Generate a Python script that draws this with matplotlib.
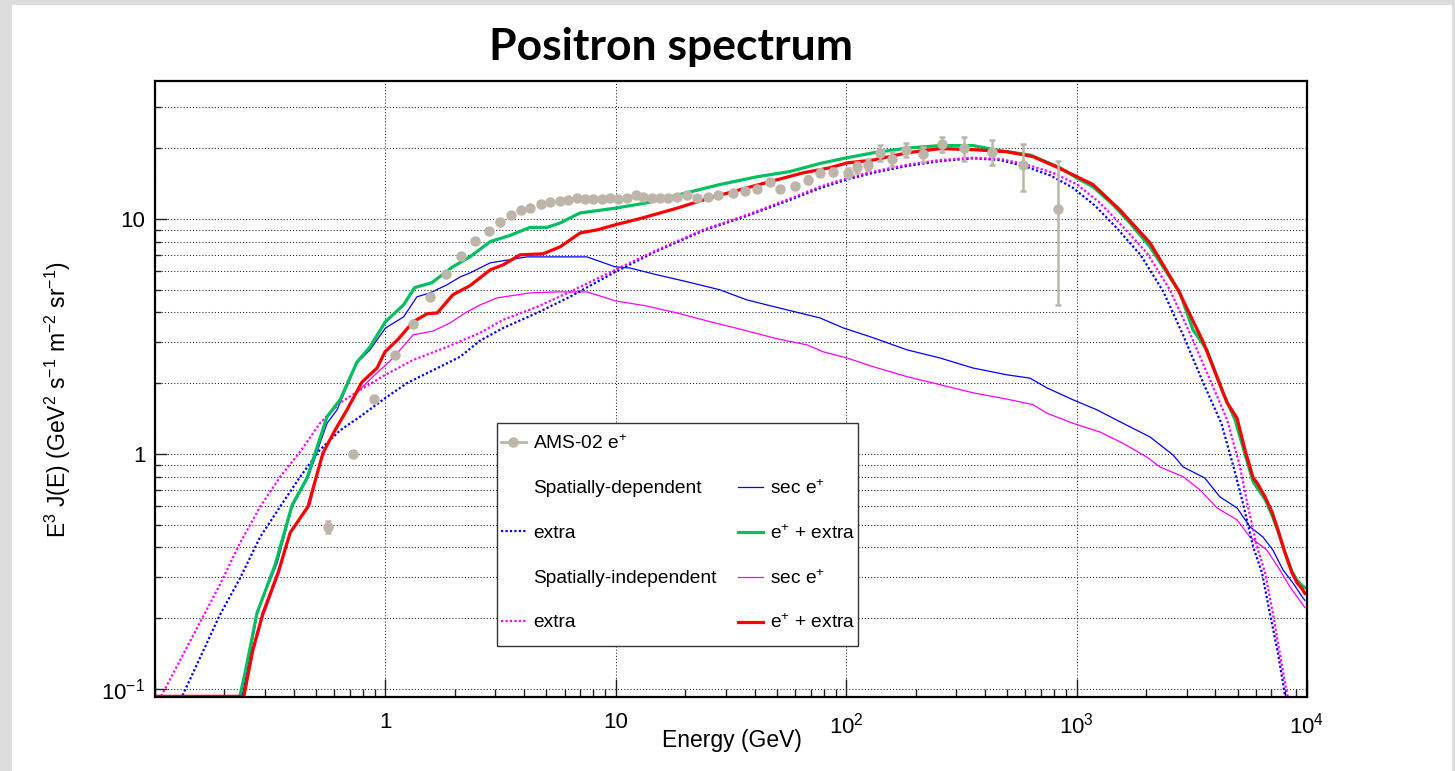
import matplotlib
matplotlib.use('Agg')
import matplotlib.pyplot as plt
from matplotlib.lines import Line2D
from matplotlib.patches import Rectangle
from matplotlib.ticker import FixedLocator, FixedFormatter, LogLocator, NullFormatter

# AMS-02 positron data (E in GeV, E^3 J(E))
ams_e = [0.563, 0.723, 0.893, 1.10, 1.32, 1.56, 1.83, 2.13, 2.45,
         2.82, 3.14, 3.51, 3.88, 4.24, 4.73, 5.2, 5.73, 6.21, 6.79,
         7.35, 7.96, 8.7, 9.44, 10.2, 11.2, 12.2, 13.1, 14.4, 15.6,
         16.9, 18.4, 20.4, 22.5, 25.1, 27.8, 32.3, 36.4, 41.0, 46.7,
         51.6, 60, 68.3, 76.9, 87.7, 102, 111, 124, 140, 158,
         182, 216, 261, 325, 429, 583, 828]
ams_y = [0.489, 1.0, 1.71, 2.64, 3.57, 4.66, 5.83, 6.96, 8.06,
         8.89, 9.7, 10.4, 10.9, 11.1, 11.6, 11.85, 11.9, 12.05, 12.3,
         12.2, 12.2, 12.2, 12.3, 12.2, 12.3, 12.6, 12.4, 12.3, 12.3,
         12.3, 12.4, 12.6, 12.3, 12.4, 12.6, 12.9, 13.2, 13.4, 14.4,
         13.4, 13.8, 14.7, 15.7, 15.9, 15.7, 16.6, 17.0, 19.1, 18.0,
         19.7, 18.9, 20.8, 20.0, 19.3, 17.0, 11.0]
ams_err = [0.03, 0.02, 0.03, 0.04, 0.05, 0.06, 0.07, 0.08, 0.09,
           0.1, 0.1, 0.1, 0.1, 0.1, 0.1, 0.1, 0.1, 0.1, 0.1,
           0.1, 0.1, 0.1, 0.1, 0.1, 0.1, 0.1, 0.1, 0.12, 0.12,
           0.13, 0.14, 0.15, 0.16, 0.18, 0.2, 0.22, 0.25, 0.28, 0.32,
           0.36, 0.4, 0.45, 0.52, 0.6, 0.8, 0.9, 0.9, 1.5, 1.2,
           1.3, 1.4, 1.55, 2.3, 2.3, 3.85, 6.7]

# spatially-dependent model
sd_sec_e = [0.237, 0.251, 0.28, 0.339, 0.394, 0.461, 0.558, 0.617, 0.753, 0.857,
            1.0, 1.2, 1.37, 1.56, 1.85, 2.11, 2.33, 2.85, 4.12, 7.5,
            9.93, 11.5, 15.1, 20.4, 28.3, 37.1, 55.3, 76.9, 96.8, 131,
            184, 255, 355, 499, 628, 743, 964, 1225, 1589, 2084,
            2620, 2900, 3600, 4190, 4970, 5660, 6440, 7110, 7870, 8700,
            9600, 9800]
sd_sec_y = [0.09, 0.12, 0.217, 0.343, 0.596, 0.79, 1.35, 1.54, 2.44, 2.77,
            3.43, 3.83, 4.66, 4.84, 5.24, 5.66, 5.89, 6.5, 6.89, 6.89,
            6.25, 6.18, 5.78, 5.40, 4.99, 4.52, 4.1, 3.79, 3.44, 3.12,
            2.77, 2.56, 2.32, 2.17, 2.10, 1.91, 1.70, 1.54, 1.35, 1.18,
            0.99, 0.88, 0.79, 0.656, 0.589, 0.489, 0.443, 0.39, 0.321, 0.282,
            0.244, 0.238]

sd_extra_e = [0.12, 0.191, 0.234, 0.286, 0.349, 0.426, 0.52, 0.636, 0.776, 1.0,
              1.24, 1.61, 2.11, 2.57, 3.24, 4.55, 6.32, 9.93, 14.5, 23.9,
              37.1, 55.3, 76.9, 100.7, 131, 184, 255, 355, 465, 600,
              770, 960, 1200, 1500, 1900, 2380, 2900, 3550, 4250, 4800,
              5270, 5840, 6380, 6900, 7480, 7870, 8100]
sd_extra_y = [0.077, 0.206, 0.296, 0.443, 0.596, 0.798, 1.04, 1.26, 1.44, 1.73,
              2.0, 2.27, 2.59, 3.03, 3.43, 3.98, 4.66, 5.94, 7.17, 8.9,
              10.3, 11.9, 13.5, 14.7, 15.7, 16.8, 17.6, 18.1, 17.8, 16.7,
              15.3, 13.6, 11.4, 9.1, 7.0, 4.9, 3.2, 2.0, 1.35, 0.88,
              0.618, 0.402, 0.312, 0.21, 0.142, 0.106, 0.088]

sd_tot_e = [0.232, 0.246, 0.277, 0.332, 0.394, 0.457, 0.558, 0.636, 0.753, 0.857,
            1.0, 1.197, 1.34, 1.59, 1.96, 2.33, 2.85, 3.47, 4.24, 5.03,
            5.73, 7.0, 9.93, 13.6, 19.0, 28.3, 41.0, 57.0, 76.9, 100.7,
            131, 183, 255, 355, 465, 628, 847, 1005, 1178, 1439,
            1706, 2084, 2467, 2810, 3200, 3680, 4320, 4870, 5380, 5840,
            6580, 7050, 7480, 8030, 8610, 9050, 9510, 9800]
sd_tot_y = [0.09, 0.117, 0.21, 0.337, 0.607, 0.79, 1.44, 1.70, 2.46, 2.85,
            3.65, 4.3, 5.1, 5.35, 6.25, 6.9, 8.0, 8.5, 9.2, 9.2,
            9.6, 10.6, 11.1, 11.7, 12.7, 14.0, 15.1, 15.9, 17.2, 18.2,
            19.1, 20.0, 20.5, 20.5, 19.5, 18.7, 16.5, 14.9, 13.7, 11.5,
            9.6, 7.6, 5.9, 4.84, 3.37, 2.77, 1.82, 1.40, 1.0, 0.76,
            0.64, 0.55, 0.47, 0.38, 0.315, 0.29, 0.275, 0.27]

# spatially-independent model
si_sec_e = [0.1, 0.243, 0.266, 0.294, 0.349, 0.386, 0.471, 0.52, 0.575, 0.655,
            0.753, 0.883, 1.08, 1.32, 1.61, 1.91, 2.26, 2.57, 3.05, 4.24,
            5.56, 7.5, 9.93, 13.6, 18.4, 25.7, 35.7, 50.1, 67.6, 79.3,
            100.7, 131, 184, 255, 355, 499, 647, 743, 964, 1262,
            1589, 2018, 2300, 2900, 3430, 4070, 4970, 5660, 6700, 7620,
            8430, 9600, 9800]
si_sec_y = [0.093, 0.093, 0.142, 0.202, 0.321, 0.462, 0.607, 0.916, 1.15, 1.44,
            1.82, 2.13, 2.56, 3.21, 3.33, 3.61, 4.02, 4.3, 4.61, 4.84,
            4.89, 4.89, 4.48, 4.26, 3.98, 3.65, 3.37, 3.09, 2.91, 2.72,
            2.56, 2.35, 2.13, 1.97, 1.82, 1.71, 1.62, 1.49, 1.35, 1.24,
            1.11, 0.97, 0.88, 0.80, 0.703, 0.589, 0.524, 0.443, 0.39, 0.321,
            0.272, 0.228, 0.222]

si_extra_e = [0.1, 0.191, 0.234, 0.286, 0.349, 0.426, 0.52, 0.636, 0.776, 1.0,
              1.32, 1.85, 2.57, 3.24, 4.55, 6.32, 9.93, 14.5, 23.9, 37.1,
              55.3, 76.9, 100.7, 131, 184, 255, 355, 465, 610, 791,
              1005, 1262, 1589, 2018, 2540, 3100, 3790, 4500, 5120, 5500,
              6070, 6580, 7110, 7620, 8030, 8300]
si_extra_y = [0.083, 0.277, 0.418, 0.596, 0.798, 1.02, 1.35, 1.65, 1.87, 2.17,
              2.51, 2.85, 3.27, 3.72, 4.22, 4.89, 6.07, 7.24, 8.98, 10.4,
              12.05, 13.7, 14.9, 15.9, 17.0, 17.8, 18.2, 18.0, 17.0, 15.7,
              14.0, 11.7, 9.25, 7.17, 4.99, 3.27, 2.07, 1.40, 0.88, 0.618,
              0.402, 0.312, 0.21, 0.142, 0.106, 0.09]

si_tot_e = [0.1, 0.243, 0.266, 0.294, 0.342, 0.386, 0.461, 0.536, 0.604, 0.681,
            0.791, 0.92, 0.996, 1.13, 1.32, 1.52, 1.68, 1.96, 2.33, 2.85,
            3.24, 3.84, 4.83, 5.73, 7.0, 8.3, 9.93, 13.1, 18.4, 25.7,
            33.6, 46.7, 65, 85, 100.7, 131, 184, 255, 355, 499,
            647, 822, 1005, 1178, 1543, 2084, 2755, 3540, 4500, 4970,
            5380, 5840, 6070, 6580, 7050, 7480, 8030, 8610, 9050, 9510,
            9800]
si_tot_y = [0.093, 0.093, 0.147, 0.21, 0.312, 0.462, 0.596, 1.01, 1.26, 1.54,
            2.02, 2.32, 2.72, 3.06, 3.65, 3.95, 3.98, 4.75, 5.2, 6.07,
            6.37, 7.03, 7.1, 7.6, 8.71, 8.98, 9.43, 10.1, 11.1, 12.3,
            13.2, 14.4, 15.7, 16.5, 17.3, 17.8, 19.1, 19.9, 19.7, 19.3,
            18.4, 16.6, 15.1, 14.0, 10.9, 7.9, 4.99, 3.0, 1.65, 1.42,
            1.04, 0.79, 0.753, 0.656, 0.566, 0.475, 0.379, 0.312, 0.283, 0.267,
            0.255]

x_ticks = [0.1, 1, 10, 100, 1000, 10000]
x_ticklabels = ['', '1', '10', '$10^{2}$', '$10^{3}$', '$10^{4}$']
y_ticks = [0.1, 1, 10]
y_ticklabels = ['$10^{-1}$', '1', '10']

ams_col = '#bdb5aa'
green = '#00c060'
W, H = 1455, 771

plt.rcParams['font.family'] = ['Liberation Sans', 'DejaVu Sans']
plt.rcParams['mathtext.fontset'] = 'custom'
plt.rcParams['mathtext.rm'] = 'Liberation Sans'
plt.rcParams['mathtext.it'] = 'Liberation Sans:italic'
plt.rcParams['mathtext.bf'] = 'Liberation Sans:bold'

fig = plt.figure(figsize=(W / 100, H / 100), dpi=100, facecolor='#dddddd')
fig.patches.append(Rectangle((12 / W, 0), 1440 / W, 766 / H, transform=fig.transFigure,
                             facecolor='white', edgecolor='none', zorder=-10))

ax = fig.add_axes([155 / W, 1 - 697 / H, (1307 - 155) / W, (697 - 81) / H])
ax.set_xscale('log')
ax.set_yscale('log')

dot = (0, (1, 1))
l_sd_sec, = ax.plot(sd_sec_e, sd_sec_y, color='blue', lw=0.9)
l_si_sec, = ax.plot(si_sec_e, si_sec_y, color='#ff00ff', lw=0.9)
l_sd_extra, = ax.plot(sd_extra_e, sd_extra_y, color='blue', lw=1.6, ls=dot)
l_si_extra, = ax.plot(si_extra_e, si_extra_y, color='#ff00ff', lw=1.6, ls=dot)
l_sd_tot, = ax.plot(sd_tot_e, sd_tot_y, color=green, lw=2.3)
l_si_tot, = ax.plot(si_tot_e, si_tot_y, color='red', lw=2.3)
ax.errorbar(ams_e, ams_y, yerr=ams_err, fmt='o', color=ams_col, ms=6.5,
            elinewidth=1.8, capsize=2.5, capthick=1.8, zorder=3)

ax.set_xlim(0.1, 1e4)
ax.set_ylim(0.0924, 38.6)

ax.xaxis.set_major_locator(FixedLocator(x_ticks))
ax.xaxis.set_major_formatter(FixedFormatter(x_ticklabels))
ax.xaxis.set_minor_locator(LogLocator(base=10, subs=range(2, 10), numticks=20))
ax.xaxis.set_minor_formatter(NullFormatter())
ax.yaxis.set_major_locator(FixedLocator(y_ticks))
ax.yaxis.set_major_formatter(FixedFormatter(y_ticklabels))
ax.yaxis.set_minor_locator(LogLocator(base=10, subs=range(2, 10), numticks=20))
ax.yaxis.set_minor_formatter(NullFormatter())

ax.tick_params(which='both', direction='in', top=False, right=False,
               width=1, color='#222222', labelsize=16)
ax.tick_params(axis='x', which='major', length=13, pad=11)
ax.tick_params(axis='x', which='minor', length=5.8)
ax.tick_params(axis='y', which='major', length=8.6, pad=7)
ax.tick_params(axis='y', which='minor', length=4.5)

gstyle = dict(color='#222222', lw=0.75, ls=(0, (1, 2)))
ax.grid(True, axis='x', which='major', **gstyle)
ax.grid(True, axis='y', which='both', **gstyle)
for s in ax.spines.values():
    s.set_linewidth(1.6)
    s.set_color('black')

# legend box, then the two columns of entries inside it
ax.add_patch(Rectangle((497 / W, 1 - 646 / H), (858 - 497) / W, (646 - 423) / H,
                       transform=fig.transFigure, facecolor='white', edgecolor='#333333',
                       lw=1.0, zorder=4.9, clip_on=False))
ams_h = Line2D([], [], color=ams_col, marker='o', ms=6.5, lw=2)
blank = Line2D([], [], ls='none')
leg_opts = dict(loc='upper left', bbox_transform=fig.transFigure, fontsize=13.8,
                frameon=False, borderpad=0, handlelength=1.3, handletextpad=0.37,
                borderaxespad=0)
leg1 = ax.legend([ams_h, blank, l_sd_extra, blank, l_si_extra],
                 ['AMS-02 e$^{+}$', 'Spatially-dependent', 'extra',
                  'Spatially-independent', 'extra'],
                 bbox_to_anchor=(501 / W, 1 - 434 / H), labelspacing=1.42, **leg_opts)
ax.add_artist(leg1)
ax.legend([l_sd_sec, l_sd_tot, l_si_sec, l_si_tot],
          ['sec e$^{+}$', 'e$^{+}$ + extra', 'sec e$^{+}$', 'e$^{+}$ + extra'],
          bbox_to_anchor=(738 / W, 1 - 479.5 / H), labelspacing=1.36, **leg_opts)

fig.text(671 / W, 1 - 60 / H, 'Positron spectrum', ha='center', va='baseline',
         fontsize=32, fontweight='bold', family='Lato')
fig.text(732 / W, 1 - 741 / H, 'Energy (GeV)', ha='center', va='center', fontsize=16.5)
fig.text(58 / W, 1 - 400 / H, 'E$^{3}$ J(E) (GeV$^{2}$ s$^{-1}$ m$^{-2}$ sr$^{-1}$)',
         rotation=90, ha='center', va='center', fontsize=16.5)

fig.savefig('out.png', dpi=100, facecolor=fig.get_facecolor())
